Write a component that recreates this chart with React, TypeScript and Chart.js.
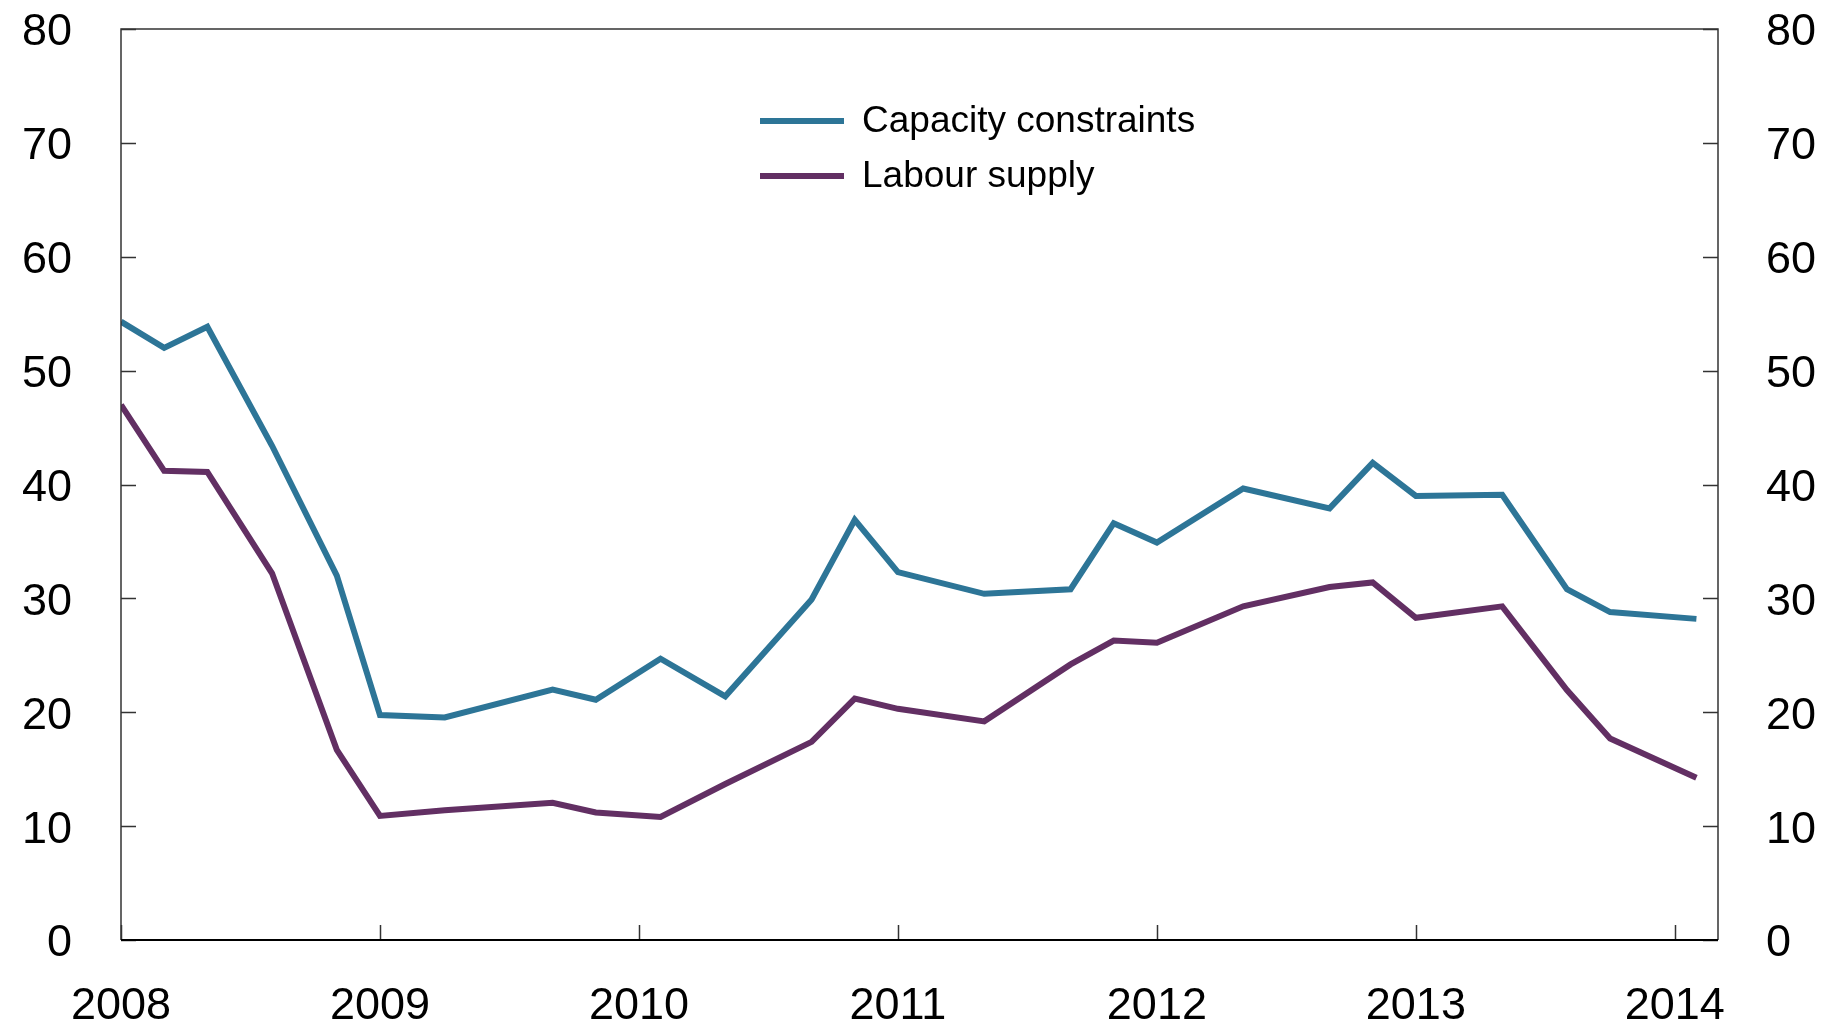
import React, { useEffect, useRef } from "react";
import { Chart, registerables } from "chart.js";

Chart.register(...registerables);

// Survey rounds (year-month)
const surveyDates = [
  "2008-01", "2008-03", "2008-05", "2008-08", "2008-11",
  "2009-01", "2009-04", "2009-09", "2009-11",
  "2010-02", "2010-05", "2010-09", "2010-11",
  "2011-01", "2011-05", "2011-09", "2011-11",
  "2012-01", "2012-05", "2012-09", "2012-11",
  "2013-01", "2013-05", "2013-08", "2013-10",
  "2014-02",
];

const capacityConstraints = [
  54.3, 52.0, 53.85, 43.4, 32.0,
  19.75, 19.55, 22.0, 21.1,
  24.7, 21.4, 29.9, 36.9,
  32.3, 30.4, 30.8, 36.6,
  34.9, 39.65, 37.9, 41.9,
  39.0, 39.1, 30.8, 28.8,
  28.2,
];

const labourSupply = [
  47.0, 41.2, 41.1, 32.2, 16.7,
  10.9, 11.4, 12.05, 11.2,
  10.8, 13.7, 17.4, 21.2,
  20.3, 19.2, 24.2, 26.3,
  26.1, 29.3, 31.0, 31.4,
  28.3, 29.3, 21.95, 17.7,
  14.25,
];

const seriesNames = ["Capacity constraints", "Labour supply"];
const seriesColors = ["#2D7597", "#622F63"];
const yearTicks = [2008, 2009, 2010, 2011, 2012, 2013, 2014];
const xStart = "2008-01";
const xEnd = "2014-03";
const yMin = 0;
const yMax = 80;
const yStep = 10;

const FONT = "'Liberation Sans', Arial, Helvetica, sans-serif";

function toYear(d: string): number {
  const [y, m] = d.split("-").map(Number);
  return y + (m - 1) / 12;
}

const framePlugin = {
  id: "frame",
  afterDatasetsDraw(chart: any) {
    const { ctx, chartArea } = chart;
    const { left, right, top, bottom } = chartArea;
    const tickLen = 15;
    ctx.save();
    ctx.strokeStyle = "#333";
    ctx.lineWidth = 1.5;
    ctx.beginPath();
    ctx.moveTo(left, bottom);
    ctx.lineTo(left, top);
    ctx.lineTo(right, top);
    ctx.lineTo(right, bottom);
    ctx.stroke();
    const yS = chart.scales.y;
    yS.ticks.forEach((t: any) => {
      const py = Math.round(yS.getPixelForValue(t.value)) + 0.5;
      ctx.beginPath();
      ctx.moveTo(left, py);
      ctx.lineTo(left + tickLen, py);
      ctx.moveTo(right, py);
      ctx.lineTo(right - tickLen, py);
      ctx.stroke();
    });
    const xS = chart.scales.x;
    xS.ticks.forEach((t: any) => {
      const px = Math.round(xS.getPixelForValue(t.value)) + 0.5;
      ctx.beginPath();
      ctx.moveTo(px, bottom);
      ctx.lineTo(px, bottom - tickLen);
      ctx.stroke();
    });
    ctx.strokeStyle = "#000";
    ctx.lineWidth = 2;
    ctx.beginPath();
    ctx.moveTo(left, bottom);
    ctx.lineTo(right, bottom);
    ctx.stroke();
    ctx.restore();
  },
};

const legendPlugin = {
  id: "insideLegend",
  afterDraw(chart: any) {
    const { ctx } = chart;
    const x0 = 760;
    const x1 = 844;
    const tx = 862;
    const rows = [121, 176];
    ctx.save();
    ctx.font = `37px ${FONT}`;
    ctx.textBaseline = "middle";
    ctx.textAlign = "left";
    chart.data.datasets.forEach((ds: any, i: number) => {
      const y = rows[i];
      ctx.strokeStyle = ds.borderColor;
      ctx.lineWidth = 6;
      ctx.beginPath();
      ctx.moveTo(x0, y);
      ctx.lineTo(x1, y);
      ctx.stroke();
      ctx.fillStyle = "#000";
      ctx.fillText(ds.label, tx, y + 1);
    });
    ctx.restore();
  },
};

function zeroPad(s: any) {
  s.paddingTop = 0;
  s.paddingBottom = 0;
  s.paddingLeft = 0;
  s.paddingRight = 0;
}

export default function App() {
  const ref = useRef<HTMLCanvasElement | null>(null);

  useEffect(() => {
    document.body.style.margin = "0";
    const canvas = ref.current;
    if (!canvas) return;
    const xs = surveyDates.map(toYear);
    const tickFont = { family: FONT, size: 45 };
    const chart = new Chart(canvas, {
      type: "line",
      data: {
        datasets: [
          {
            label: seriesNames[0],
            data: xs.map((x, i) => ({ x, y: capacityConstraints[i] })),
            borderColor: seriesColors[0],
            backgroundColor: seriesColors[0],
            borderWidth: 6,
            pointRadius: 0,
            tension: 0,
            yAxisID: "y",
          },
          {
            label: seriesNames[1],
            data: xs.map((x, i) => ({ x, y: labourSupply[i] })),
            borderColor: seriesColors[1],
            backgroundColor: seriesColors[1],
            borderWidth: 6,
            pointRadius: 0,
            tension: 0,
            yAxisID: "y",
          },
        ],
      },
      options: {
        responsive: false,
        animation: false,
        layout: { padding: { top: 29, left: 0, right: 0, bottom: 0 } },
        plugins: {
          legend: { display: false },
          tooltip: { enabled: false },
        },
        scales: {
          x: {
            type: "linear",
            position: "bottom",
            min: toYear(xStart),
            max: toYear(xEnd),
            afterBuildTicks: (s: any) => {
              s.ticks = yearTicks.map((v) => ({ value: v }));
            },
            afterFit: (s: any) => {
              s.height = 87;
              zeroPad(s);
            },
            ticks: {
              autoSkip: false,
              maxRotation: 0,
              padding: 40,
              color: "#000",
              font: tickFont,
              callback: (v: any) => String(v),
            },
            grid: { display: false, drawTicks: false },
            border: { display: false },
          },
          y: {
            position: "left",
            min: yMin,
            max: yMax,
            afterFit: (s: any) => {
              s.width = 121;
              zeroPad(s);
            },
            ticks: {
              stepSize: yStep,
              padding: 49,
              labelOffset: 4,
              color: "#000",
              font: tickFont,
              callback: (v: any) => String(v),
            },
            grid: { display: false, drawTicks: false },
            border: { display: false },
          },
          y2: {
            position: "right",
            min: yMin,
            max: yMax,
            afterFit: (s: any) => {
              s.width = 109;
              zeroPad(s);
            },
            ticks: {
              stepSize: yStep,
              padding: 48,
              labelOffset: 4,
              color: "#000",
              font: tickFont,
              callback: (v: any) => String(v),
            },
            grid: { display: false, drawTicks: false },
            border: { display: false },
          },
        },
      },
      plugins: [framePlugin, legendPlugin],
    });
    return () => chart.destroy();
  }, []);

  return (
    <div style={{ position: "absolute", left: 0, top: 0, width: 1827, height: 1027, background: "#fff" }}>
      <canvas ref={ref} width={1827} height={1027} style={{ display: "block" }} />
    </div>
  );
}
